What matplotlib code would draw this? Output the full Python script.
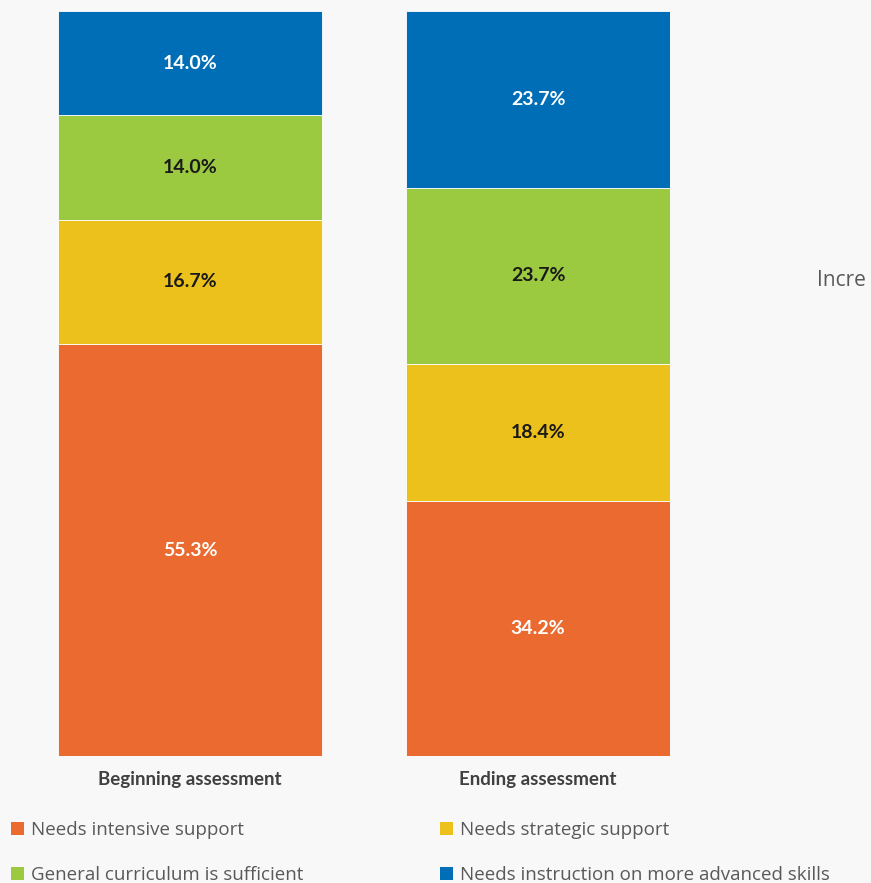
import numpy as np
import matplotlib.pyplot as plt
from matplotlib.patches import Patch

# data
categories = ['Beginning assessment', 'Ending assessment']
series = ['Needs intensive support', 'Needs strategic support',
          'General curriculum is sufficient', 'Needs instruction on more advanced skills']
values = {
    'Needs intensive support': [55.3, 34.2],
    'Needs strategic support': [16.7, 18.4],
    'General curriculum is sufficient': [14.0, 23.7],
    'Needs instruction on more advanced skills': [14.0, 23.7],
}
colors = ['#EB6A2F', '#EDC11C', '#9BC93F', '#006EB6']
label_colors = ['white', '#1a1a1a', '#1a1a1a', 'white']

W, H = 871, 883
bg = '#F8F8F8'
fig = plt.figure(figsize=(W / 100, H / 100), dpi=100, facecolor=bg)
ax = fig.add_axes([58 / W, (H - 756) / H, (670 - 58) / W, 745 / H])
ax.set_facecolor(bg)

bar_w = 264 / 348
x = np.arange(len(categories))
bottom = np.zeros(len(categories))
for name, c, lc in zip(series, colors, label_colors):
    v = np.array(values[name])
    ax.bar(x, v, bar_w, bottom=bottom, color=c, edgecolor='white', linewidth=0.6)
    for xi, vi, bi in zip(x, v, bottom):
        ax.text(xi, bi + vi / 2, f'{vi:.1f}%', ha='center', va='center',
                color=lc, fontsize=14, fontweight='bold', family='Lato')
    bottom += v

ax.set_xlim(-bar_w / 2, len(categories) - 1 + bar_w / 2)
ax.set_ylim(0, 100)
for s in ax.spines.values():
    s.set_visible(False)
ax.set_yticks([])
ax.set_xticks(x)
ax.set_xticklabels(categories, fontsize=13.5, fontweight='bold', color='#404040', family='Lato')
ax.tick_params(axis='x', length=0, pad=11)

# legend, row-wise order like the original
order = [0, 2, 1, 3]
handles = [Patch(facecolor=colors[i], edgecolor='none') for i in order]
labels = [series[i] for i in order]
leg = fig.legend(handles, labels, loc='upper left',
                 ncol=2, frameon=False, labelcolor='#595959',
                 handlelength=0.7, handleheight=0.7, handletextpad=0.35,
                 columnspacing=7.3, labelspacing=1.42, borderpad=0.0, borderaxespad=0.0,
                 prop={'family': 'Open Sans', 'size': 13.5})
leg.set_bbox_to_anchor((11 / W, 1 - 821 / H), transform=fig.transFigure)

fig.text(817 / W, 1 - 281 / H, 'Incre', fontsize=15, color='#595959',
         va='center', ha='left', family='Open Sans')

fig.savefig('out.png', dpi=100, facecolor=bg)
